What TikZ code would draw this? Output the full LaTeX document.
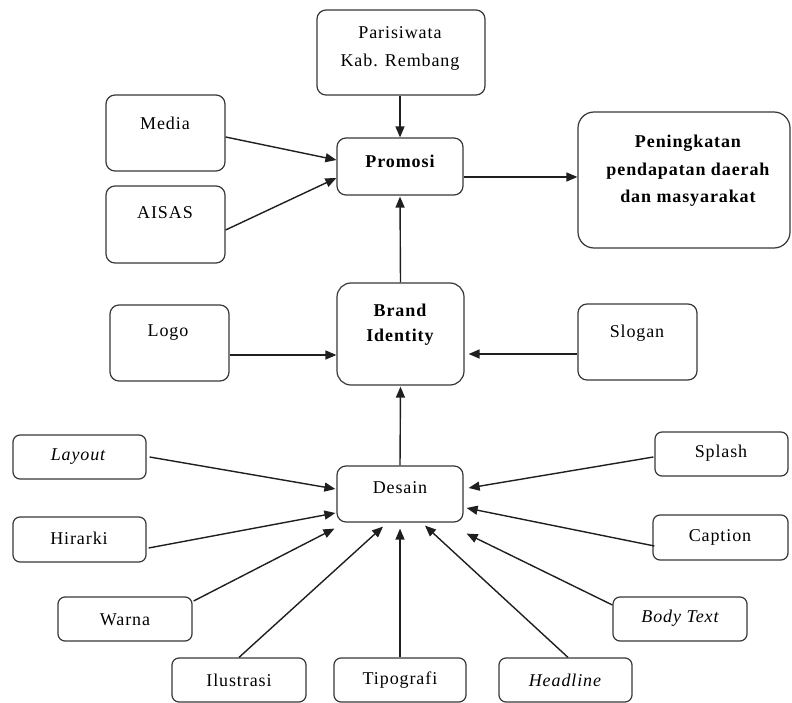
\documentclass[tikz,border=0pt]{standalone}
\usepackage{fontspec}
\setmainfont{Liberation Serif}[LetterSpace=5]
\usetikzlibrary{arrows.meta,calc}
\begin{document}
\begin{tikzpicture}[x=1pt,y=-1pt,
  box/.style={draw=black!78,line width=1.2pt,rounded corners=9pt,inner sep=0pt,fill=white},
  txt/.style={font=\fontsize{18}{27.5}\selectfont,align=center,inner sep=0pt,anchor=center},
  arr/.style={line width=1.4pt,draw=black!88,-{Triangle[length=11pt,width=9pt]}}]
\useasboundingbox (0,0) rectangle (792,703);
% boxes
\node[box,minimum width=168pt,minimum height=85pt] (paris) at (401,52.5) {};
\node[box,minimum width=126pt,minimum height=57pt] (promosi) at (400,166.5) {};
\node[box,minimum width=119pt,minimum height=76pt] (media) at (165.5,133) {};
\node[box,minimum width=119pt,minimum height=77pt] (aisas) at (165.5,224.5) {};
\node[box,minimum width=212pt,minimum height=136pt,rounded corners=16pt] (hasil) at (684,180) {};
\node[box,minimum width=127pt,minimum height=102pt,rounded corners=14pt] (brand) at (400.5,334) {};
\node[box,minimum width=119pt,minimum height=76pt] (logo) at (169.5,343) {};
\node[box,minimum width=119pt,minimum height=76pt] (slogan) at (637.5,342) {};
\node[box,minimum width=126pt,minimum height=56pt] (desain) at (400,494) {};
\node[box,minimum width=133pt,minimum height=44pt,rounded corners=7pt] (layout) at (79.5,457) {};
\node[box,minimum width=133pt,minimum height=45pt,rounded corners=7pt] (hirarki) at (79.5,539.5) {};
\node[box,minimum width=134pt,minimum height=44pt,rounded corners=7pt] (warna) at (125,619) {};
\node[box,minimum width=134pt,minimum height=44pt,rounded corners=7pt] (ilustrasi) at (239,680) {};
\node[box,minimum width=132pt,minimum height=44pt,rounded corners=7pt] (tipografi) at (400,680) {};
\node[box,minimum width=133pt,minimum height=44pt,rounded corners=7pt] (headline) at (565.5,680) {};
\node[box,minimum width=134pt,minimum height=44pt,rounded corners=7pt] (bodytext) at (680,619) {};
\node[box,minimum width=135pt,minimum height=45pt,rounded corners=7pt] (caption) at (720.5,537.5) {};
\node[box,minimum width=133pt,minimum height=44pt,rounded corners=7pt] (splash) at (721.5,454) {};
% texts
\node[txt] (tparis1) at (400,33) {Parisiwata};
\node[txt] (tparis2) at (400,62) {Kab. Rembang};
\node[txt,font=\fontsize{18}{27.5}\selectfont\bfseries] (tpromosi) at (400,161) {Promosi};
\node[txt] (tmedia) at (165,123) {Media};
\node[txt] (taisas) at (165,213) {AISAS};
\node[txt,font=\fontsize{18}{27.5}\selectfont\bfseries] (thasil1) at (688,143) {Peningkatan};
\node[txt,font=\fontsize{18}{27.5}\selectfont\bfseries] (thasil2) at (688,171) {pendapatan daerah};
\node[txt,font=\fontsize{18}{27.5}\selectfont\bfseries] (thasil3) at (688,198) {dan masyarakat};
\node[txt,font=\fontsize{18}{27.5}\selectfont\bfseries] (tbrand1) at (400,310) {Brand};
\node[txt,font=\fontsize{18}{27.5}\selectfont\bfseries] (tbrand2) at (400,337) {Identity};
\node[txt] (tlogo) at (168,333) {Logo};
\node[txt] (tslogan) at (637,333) {Slogan};
\node[txt] (tdesain) at (400,488) {Desain};
\node[txt,font=\fontsize{18}{27.5}\selectfont\itshape] (tlayout) at (78,457) {Layout};
\node[txt] (thirarki) at (79,538) {Hirarki};
\node[txt] (twarna) at (125,620) {Warna};
\node[txt] (tilustrasi) at (239,680) {Ilustrasi};
\node[txt] (ttipografi) at (400,680) {Tipografi};
\node[txt,font=\fontsize{18}{27.5}\selectfont\itshape] (theadline) at (565,680) {Headline};
\node[txt,font=\fontsize{18}{27.5}\selectfont\itshape] (tbodytext) at (680,618) {Body Text};
\node[txt] (tcaption) at (720,537) {Caption};
\node[txt] (tsplash) at (721,453) {Splash};
% connectors
\draw[arr] (paris.south -| promosi.north) -- (promosi.north);
\draw[arr] ($(media.east)+(0,4)$) -- ($(promosi.west)+(0,-6.5)$);
\draw[arr] ($(aisas.east)+(0,5.5)$) -- ($(promosi.west)+(0,11.5)$);
\draw[arr] ($(promosi.east)+(0,10.5)$) -- ($(hasil.west)+(0,-3)$);
\draw[arr] (brand.north) -- ($(promosi.south)+(0,1)$);
\draw[arr] ($(logo.east)+(0,12)$) -- ($(brand.west)+(0,21)$);
\draw[arr] ($(slogan.west)+(0,12)$) -- ($(brand.east)+(4,20)$);
\draw[arr] (desain.north) -- ($(brand.south)+(0,1)$);
\draw[arr] ($(layout.east)+(3,0)$) -- ($(desain.west)+(-1,-5)$);
\draw[arr] ($(hirarki.east)+(2,8.5)$) -- ($(desain.west)+(-1,19)$);
\draw[arr] ($(warna.east)+(1,-18)$) -- ($(desain.south west)+(-2,6)$);
\draw[arr] (ilustrasi.north) -- ($(desain.south)+(-17,4)$);
\draw[arr] (tipografi.north) -- ($(desain.south)+(0,6)$);
\draw[arr] ($(headline.north)+(2.5,0)$) -- ($(desain.south)+(25,3)$);
\draw[arr] ($(bodytext.west)+(0,-14)$) -- ($(desain.south east)+(3,11)$);
\draw[arr] ($(caption.west)+(2,8.5)$) -- ($(desain.east)+(3,14)$);
\draw[arr] ($(splash.west)+(-1,3)$) -- ($(desain.east)+(5,-6)$);
\end{tikzpicture}
\end{document}
